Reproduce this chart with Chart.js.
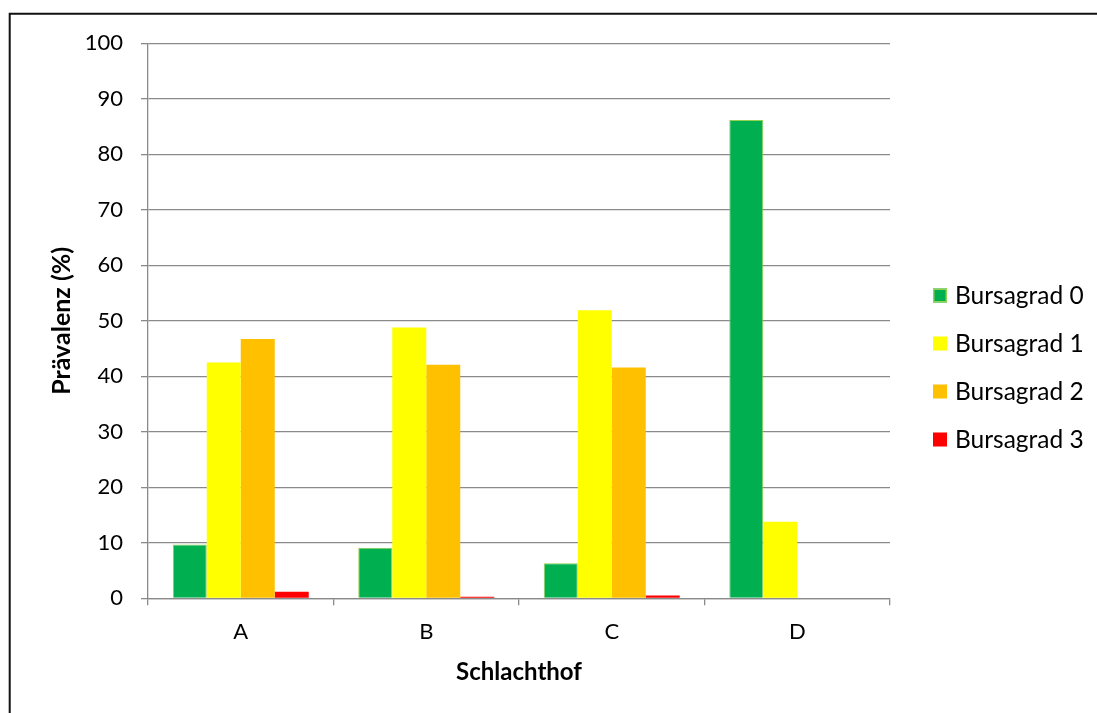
<!DOCTYPE html>
<html>
<head>
<meta charset="utf-8">
<script src="https://cdn.jsdelivr.net/npm/chart.js@4"></script>
<style>
  html, body { margin: 0; padding: 0; background: #fff; }
  #wrap { position: relative; width: 1097px; height: 713px; }
</style>
</head>
<body>
<div id="wrap"><canvas id="chart"></canvas></div>
<script>
// Schlachthöfe (categories)
const categories = ['A', 'B', 'C', 'D'];

// Prävalenz (%) je Bursagrad
const bursagrad0 = [9.7, 9.1, 6.3, 86.2];
const bursagrad1 = [42.5, 48.8, 51.9, 13.8];
const bursagrad2 = [46.7, 42.1, 41.6, 0];
const bursagrad3 = [1.2, 0.3, 0.5, 0];

const seriesLabels = ['Bursagrad 0', 'Bursagrad 1', 'Bursagrad 2', 'Bursagrad 3'];

// y-axis range and step
const yMin = 0, yMax = 100, yStep = 10;

const FONT = 'Lato, "Open Sans", sans-serif';
const GRID = '#8a8a8a';

// Outer frame of the chart object
const framePlugin = {
  id: 'frame',
  beforeDraw(chart) {
    const ctx = chart.ctx;
    ctx.save();
    ctx.strokeStyle = '#111';
    ctx.lineWidth = 2;
    ctx.beginPath();
    ctx.moveTo(9.7, chart.height);
    ctx.lineTo(9.7, 13.7);
    ctx.lineTo(chart.width, 13.7);
    ctx.stroke();
    ctx.restore();
  }
};

// Legend to the right of the plot, built from the datasets
const sideLegend = {
  id: 'sideLegend',
  afterDraw(chart) {
    const ctx = chart.ctx;
    const x = chart.chartArea.right + 43;
    const y0 = 295.5, step = 48, box = 14;
    ctx.save();
    ctx.font = '24.5px ' + FONT;
    ctx.textBaseline = 'middle';
    ctx.textAlign = 'left';
    chart.data.datasets.forEach((ds, i) => {
      const y = y0 + i * step;
      ctx.fillStyle = ds.backgroundColor;
      ctx.fillRect(x, y - box / 2, box, box);
      if (ds.borderWidth) {
        ctx.strokeStyle = ds.borderColor;
        ctx.lineWidth = 1.5;
        ctx.strokeRect(x + 0.75, y - box / 2 + 0.75, box - 1.5, box - 1.5);
      }
      ctx.fillStyle = '#000';
      ctx.fillText(ds.label, x + 22, y + 1);
    });
    ctx.restore();
  }
};

const barDefaults = { barPercentage: 1.0, categoryPercentage: 0.733 };

new Chart(document.getElementById('chart'), {
  type: 'bar',
  data: {
    labels: categories,
    datasets: [
      Object.assign({ label: seriesLabels[0], data: bursagrad0, backgroundColor: '#00B050', borderColor: '#92D050', borderWidth: 1 }, barDefaults),
      Object.assign({ label: seriesLabels[1], data: bursagrad1, backgroundColor: '#FFFF00', borderWidth: 0 }, barDefaults),
      Object.assign({ label: seriesLabels[2], data: bursagrad2, backgroundColor: '#FFC000', borderWidth: 0 }, barDefaults),
      Object.assign({ label: seriesLabels[3], data: bursagrad3, backgroundColor: '#FF0000', borderWidth: 0 }, barDefaults)
    ]
  },
  options: {
    responsive: true,
    maintainAspectRatio: false,
    animation: false,
    layout: { padding: { left: 0, right: 207, top: 43.3, bottom: 0 } },
    plugins: {
      legend: { display: false },
      tooltip: { enabled: false }
    },
    scales: {
      x: {
        offset: true,
        grid: { drawOnChartArea: false, drawTicks: true, tickLength: 7, color: GRID, lineWidth: 1.3, offset: true },
        border: { color: GRID, width: 1.3 },
        ticks: { color: '#000', font: { family: FONT, size: 22 }, padding: 13 },
        title: { display: true, text: 'Schlachthof', color: '#000', font: { family: FONT, size: 24, weight: 'bold' }, padding: { top: 0, bottom: 26 } },
        afterFit(scale) { scale.height = 114.7; }
      },
      y: {
        min: yMin,
        max: yMax,
        ticks: { stepSize: yStep, color: '#000', font: { family: FONT, size: 22 }, padding: 18 },
        grid: { color: GRID, lineWidth: 1.3, tickLength: 7 },
        border: { color: GRID, width: 1.3 },
        title: { display: true, text: 'Prävalenz (%)', color: '#000', font: { family: FONT, size: 25, weight: 'bold' }, padding: { top: 47, bottom: 0 } },
        afterFit(scale) { scale.width = 148; }
      }
    }
  },
  plugins: [framePlugin, sideLegend]
});
</script>
</body>
</html>
